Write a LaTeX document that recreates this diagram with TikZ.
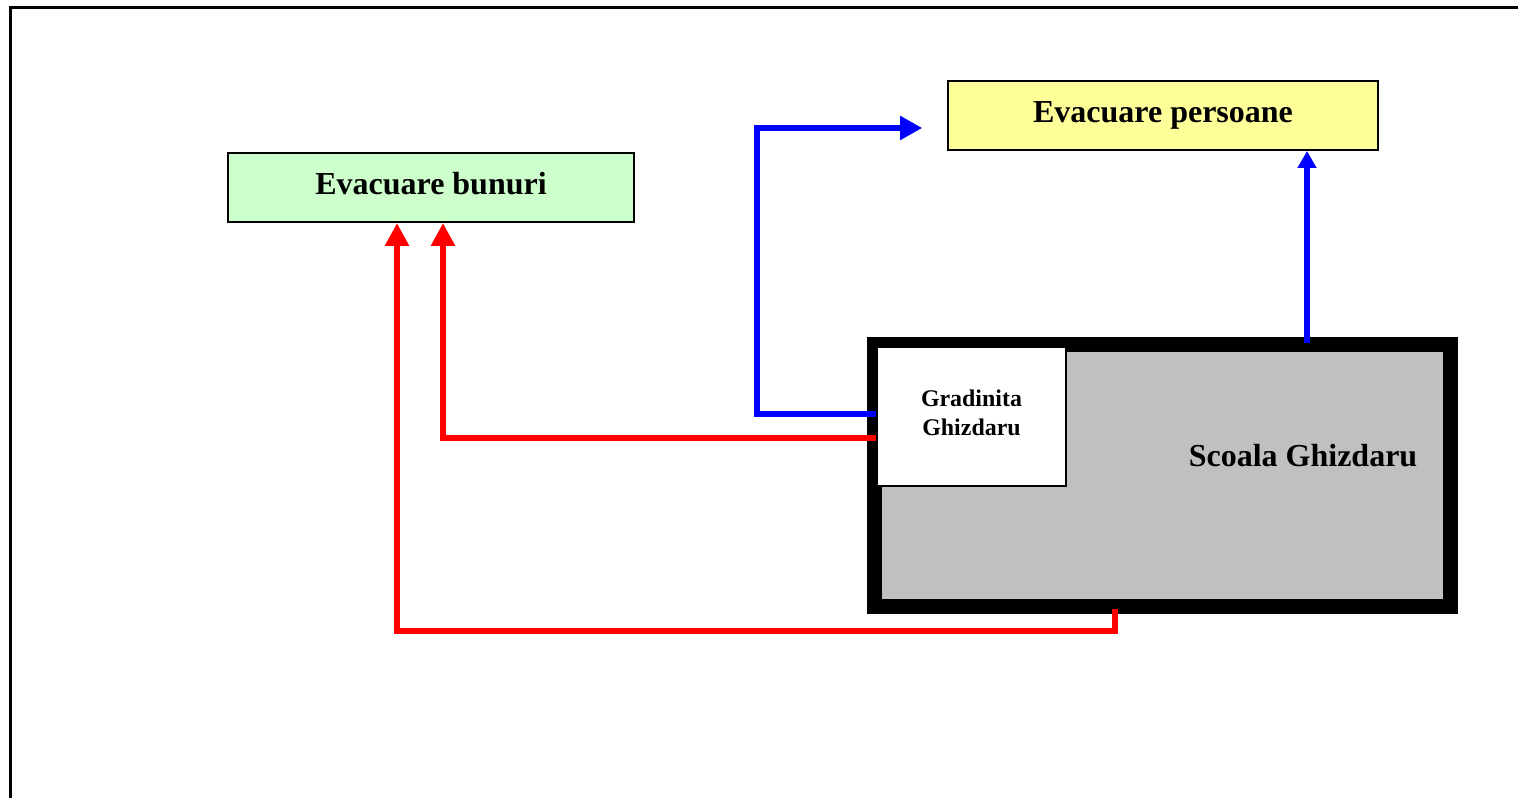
\documentclass[tikz,border=0pt]{standalone}
\usepackage{fontspec}
\setmainfont{Liberation Serif}
\usetikzlibrary{arrows.meta}

\definecolor{bunurigreen}{HTML}{CCFFCC}
\definecolor{persoaneyellow}{HTML}{FFFF99}
\definecolor{scoalagray}{HTML}{C0C0C0}

\begin{document}
\begin{tikzpicture}[x=0.01cm,y=-0.01cm,
    box/.style={draw,line width=0.55pt,minimum height=0.69cm,
        font=\bfseries\fontsize{9.1}{11}\selectfont},
    redline/.style={draw=red,line width=1.7pt,
        -{Triangle[length=6.5pt,width=6.5pt]}},
    blueline/.style={draw=blue,line width=1.7pt,
        -{Triangle[length=6.3pt,width=6.5pt]}}
]
    \useasboundingbox (0,0) rectangle (1518,798);
    % frame of the page
    \draw[line width=1.1pt] (10.5,798) |- (1518,7.5);

    \node[box,fill=bunurigreen,minimum width=4.06cm,text depth=0.08cm] (bunuri) at (431,187.5) {Evacuare bunuri};
    \node[box,fill=persoaneyellow,minimum width=4.3cm] (persoane) at (1163,115.5) {Evacuare persoane};

    % the school building
    \node[draw,fill=scoalagray,line width=4.27pt,minimum width=5.76cm,minimum height=2.62cm] (scoala) at (1162.5,475.5) {};
    \node[font=\bfseries\fontsize{9.1}{11}\selectfont] (scoalatext) at (1303,456) {Scoala Ghizdaru};
    \node[draw,fill=white,line width=0.6pt,minimum width=1.89cm,minimum height=1.39cm,text depth=0.08cm,
        align=center,font=\bfseries\fontsize{6.8}{8.3}\selectfont] (gradinita) at (971.5,416.5) {Gradinita\\Ghizdaru};

    % corners of the routes
    \coordinate (bl) at (757,414);
    \coordinate (bt) at (757,128);
    \coordinate (bu) at (1307,343);
    \coordinate (rr) at (443,438);
    \coordinate (rb) at (1115,631);
    \coordinate (rl) at (397,631);

    \draw[blueline] (gradinita.west |- bl) -- (bl) -- (bt) -- ([xshift=-7pt]persoane.west |- bt);
    \draw[draw=blue,line width=1.7pt,-{Triangle[length=4.8pt,width=5.1pt]}] (bu) -- (bu |- persoane.south);
    \draw[redline] (gradinita.west |- rr) -- (rr) -- (rr |- bunuri.south);
    \draw[redline] ([yshift=1.4pt]rb |- scoala.south) -- (rb) -- (rl) -- (rl |- bunuri.south);
\end{tikzpicture}
\end{document}
